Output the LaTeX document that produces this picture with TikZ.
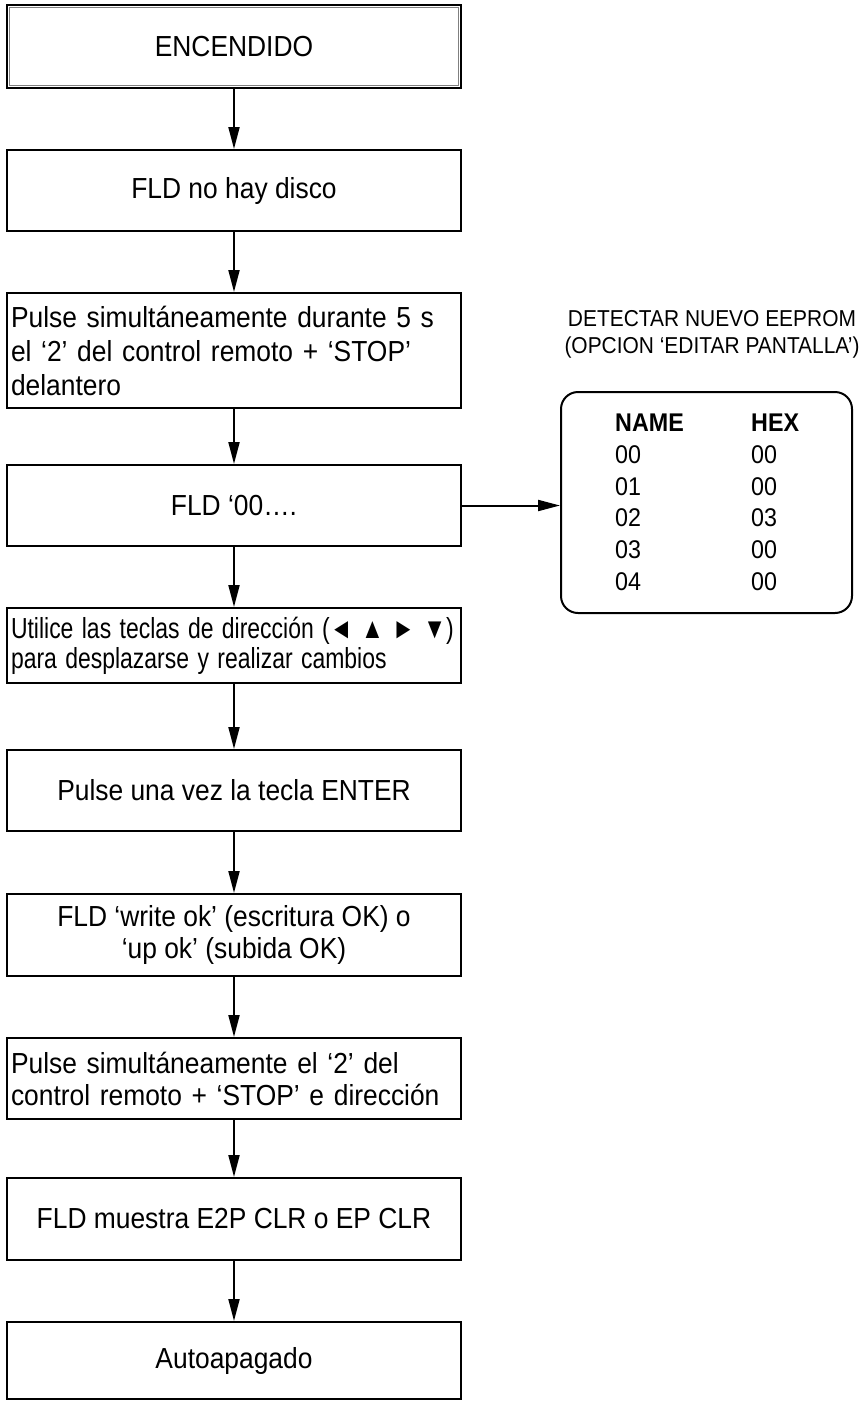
\documentclass[tikz,border=0pt]{standalone}
\usepackage{fontspec}
\usepackage{graphicx}
\setmainfont{Liberation Sans}[FakeStretch=0.91]
\usetikzlibrary{arrows.meta}
% one left-aligned line of a step box, and a narrower variant
\newcommand{\lline}[1]{\makebox[446pt][l]{#1}}
\newcommand{\squeezed}[1]{\scalebox{0.87}[1]{#1}}
\begin{document}
\begin{tikzpicture}[x=1pt,y=-1pt,
  flowbox/.style={draw, line width=2pt, minimum width=454pt, inner xsep=4pt, inner ysep=5pt,
    font=\fontsize{29}{33}\selectfont, align=center},
  leftbox/.style={flowbox, text width=446pt, align=left},
  flow/.style={-{Triangle[length=22pt,width=11pt]}, line width=2pt},
  celltext/.style={anchor=west, inner sep=0pt, font=\fontsize{25.6}{27}\selectfont},
]
\useasboundingbox (0,0) rectangle (866,1401);

% main column of steps
\node[flowbox, minimum height=83pt] (n1) at (234,46.5) {ENCENDIDO};
\draw[gray, line width=0.8pt] ([shift={(3.5,3.5)}]n1.north west) rectangle ([shift={(-3.5,-3.5)}]n1.south east);
\node[flowbox, minimum height=81pt] (n2) at (234,190.5) {FLD no hay disco};
\node[leftbox, minimum height=115pt, font=\fontsize{29}{34}\selectfont] (n3) at (234,350.5)
  {\lline{Pulse simultáneamente durante 5 s}\\\lline{el ‘2’ del control remoto + ‘STOP’}\\\lline{delantero}};
\node[flowbox, minimum height=81pt] (n4) at (234,505.5) {FLD ‘00….};
\node[leftbox, minimum height=75pt, font=\fontsize{29}{30}\selectfont] (n5) at (234,645.5)
  {\lline{\squeezed{Utilice las teclas de dirección (◄ ▲ ► ▼)}}\\\lline{\squeezed{para desplazarse y realizar cambios}}};
\node[flowbox, minimum height=81pt] (n6) at (234,790.5) {Pulse una vez la tecla ENTER};
\node[flowbox, minimum height=82pt, font=\fontsize{29}{32}\selectfont] (n7) at (234,935)
  {FLD ‘write ok’ (escritura OK) o\\‘up ok’ (subida OK)};
\node[leftbox, minimum height=81pt, font=\fontsize{29}{32}\selectfont] (n8) at (234,1078.5)
  {\lline{Pulse simultáneamente el ‘2’ del}\\\lline{control remoto + ‘STOP’ e dirección}};
\node[flowbox, minimum height=82pt] (n9) at (234,1219) {FLD muestra E2P CLR o EP CLR};
\node[flowbox, minimum height=77pt] (n10) at (234,1360.5) {Autoapagado};

\foreach \a/\b in {n1/n2, n2/n3, n3/n4, n4/n5, n5/n6, n6/n7, n7/n8, n8/n9, n9/n10}
  \draw[flow] (\a) -- (\b);

% EEPROM table
\node[font=\fontsize{23}{27}\selectfont, align=center] (hdr) at (712,334)
  {DETECTAR NUEVO EEPROM\\(OPCION ‘EDITAR PANTALLA’)};
\node[draw, rounded corners=17pt, line width=2pt, minimum width=291pt,
  minimum height=221pt] (tbl) at (706.5,502.5) {};
\node[celltext, font=\bfseries\fontsize{25.6}{27}\selectfont] (nameh) at (615,423) {NAME};
\node[celltext, font=\bfseries\fontsize{25.6}{27}\selectfont] (hexh) at (751,423) {HEX};
\foreach \i/\nm/\hx/\yy in {0/00/00/455, 1/01/00/487, 2/02/03/518, 3/03/00/550, 4/04/00/582} {
  \node[celltext] (name\i) at (615,\yy) {\nm};
  \node[celltext] (hex\i) at (751,\yy) {\hx};
}

\draw[flow] (n4.east) -- (n4.east -| tbl.west);
\end{tikzpicture}
\end{document}
